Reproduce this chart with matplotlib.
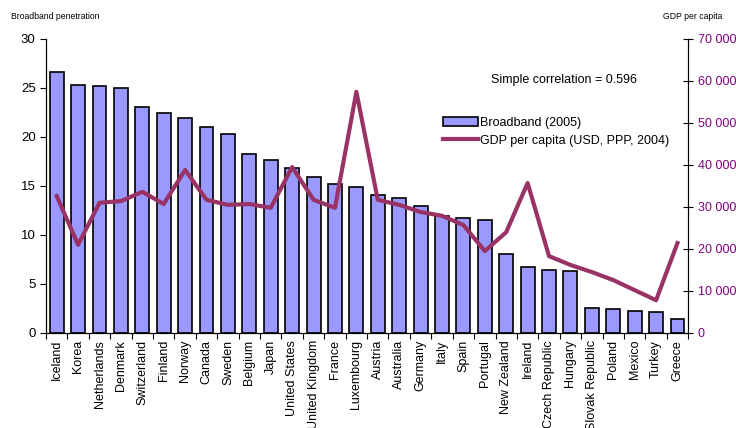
import numpy as np
import matplotlib
matplotlib.use("Agg")
import matplotlib.pyplot as plt

plt.rcParams['font.family'] = ['Liberation Sans', 'DejaVu Sans']

countries = ["Iceland", "Korea", "Netherlands", "Denmark", "Switzerland", "Finland",
             "Norway", "Canada", "Sweden", "Belgium", "Japan", "United States",
             "United Kingdom", "France", "Luxembourg", "Austria", "Australia", "Germany",
             "Italy", "Spain", "Portugal", "New Zealand", "Ireland", "Czech Republic",
             "Hungary", "Slovak Republic", "Poland", "Mexico", "Turkey", "Greece"]
broadband = [26.6, 25.3, 25.2, 25.0, 23.1, 22.4, 21.9, 21.0, 20.3, 18.3, 17.6, 16.8,
             15.9, 15.2, 14.9, 14.1, 13.8, 13.0, 11.9, 11.7, 11.5, 8.1, 6.7, 6.4,
             6.3, 2.5, 2.4, 2.2, 2.1, 1.4]
gdp = [32600, 21000, 31000, 31400, 33600, 30700, 38800, 31700, 30500, 30700, 29800,
       39500, 31700, 29800, 57400, 31700, 30500, 28800, 27900, 25700, 19500, 24000,
       35700, 18300, 16200, 14500, 12600, 10200, 7800, 21400]
left_ticks = [0, 5, 10, 15, 20, 25, 30]
right_ticks = [0, 10000, 20000, 30000, 40000, 50000, 60000, 70000]

bar_col = "#9999ff"
line_col = "#993366"
tick_purple = "#800080"

fig = plt.figure(figsize=(7.36, 4.28), dpi=100)
ax = fig.add_axes([0.0625, 0.222, 0.8725, 0.687])
x = np.arange(len(countries))

bars = ax.bar(x, broadband, width=0.65, color=bar_col, edgecolor="black",
              linewidth=1.2, label="Broadband (2005)", zorder=2)
ax.set_xlim(-0.5, len(countries) - 0.5)
ax.set_ylim(0, 30)
ax.set_yticks(left_ticks)
ax.tick_params(axis="y", labelsize=9.5, direction="out", length=4)
# category ticks sit between bars, labels under bars
ax.set_xticks(np.arange(len(countries) + 1) - 0.5)
ax.set_xticklabels([])
ax.set_xticks(x, minor=True)
ax.set_xticklabels(countries, minor=True, rotation=90, fontsize=9)
ax.tick_params(axis="x", which="major", length=4, direction="out")
ax.tick_params(axis="x", which="minor", length=0, pad=5)
ax.spines["top"].set_visible(False)

ax2 = ax.twinx()
ln, = ax2.plot(x, gdp, color=line_col, linewidth=3,
               label="GDP per capita (USD, PPP, 2004)", zorder=3)
ax2.set_ylim(0, 70000)
ax2.set_yticks(right_ticks)
ax2.set_yticklabels([f"{v:,}".replace(",", " ") for v in right_ticks], color=tick_purple)
ax2.tick_params(axis="y", labelsize=9, direction="inout", length=7)
ax2.spines["top"].set_visible(False)

fig.text(0.015, 0.955, "Broadband penetration", fontsize=6.2)
fig.text(0.901, 0.955, "GDP per capita", fontsize=6.2)
ax2.text(0.693, 0.85, "Simple correlation = 0.596", transform=ax.transAxes, fontsize=9)

leg = ax2.legend([bars, ln], ["Broadband (2005)", "GDP per capita (USD, PPP, 2004)"],
                 loc="upper left", bbox_to_anchor=(0.608, 0.755), frameon=False,
                 fontsize=9, handlelength=2.8, handletextpad=0.2,
                 labelspacing=0.45, borderpad=0)

fig.savefig("out.png", dpi=100)
